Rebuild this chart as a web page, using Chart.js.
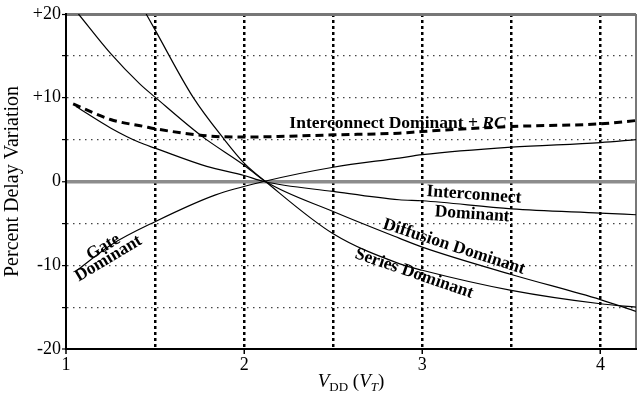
<!DOCTYPE html>
<html>
<head>
<meta charset="utf-8">
<script src="https://cdn.jsdelivr.net/npm/chart.js@4.4.0/dist/chart.umd.min.js"></script>
<style>
  body { margin: 0; background: #fff; }
</style>
</head>
<body>
<canvas id="delay" width="638" height="395"></canvas>
<script>
// V_DD (in V_T) and percent delay variation
const gateX = [1.056, 1.25, 1.5, 1.84, 2.11, 2.5, 2.87, 3.0, 3.5, 4.0, 4.2];
const gateY = [-10.7, -7.6, -4.8, -1.6, 0, 1.7, 2.8, 3.2, 4.1, 4.65, 5.0];

const interX = [1.056, 1.25, 1.414, 1.5, 1.79, 2.0, 2.11, 2.5, 2.87, 3.0, 3.5, 4.0, 4.2];
const interY = [8.95, 6.4, 4.65, 3.98, 1.8, 0.72, 0, -1.19, -2.18, -2.3, -3.26, -3.77, -3.97];

const diffX = [1.07, 1.25, 1.414, 1.5, 1.76, 2.0, 2.12, 2.5, 2.87, 3.0, 3.5, 4.0, 4.2];
const diffY = [20, 15.3, 11.66, 10.07, 5.45, 1.95, 0, -3.58, -6.76, -7.83, -11.1, -14.1, -15.5];

const seriesX = [1.45, 1.5, 1.713, 1.89, 2.0, 2.12, 2.5, 2.87, 3.0, 3.5, 4.0, 4.2];
const seriesY = [20, 18.1, 10.07, 4.98, 2.2, 0, -6.24, -9.8, -10.6, -13.0, -14.6, -15.0];

const rcX = [1.04, 1.25, 1.44, 1.5, 1.79, 2.0, 2.19, 2.5, 2.87, 3.0, 3.5, 4.0, 4.2];
const rcY = [9.27, 7.4, 6.56, 6.3, 5.45, 5.3, 5.37, 5.57, 5.77, 5.97, 6.56, 6.89, 7.28];

const xTicks = [1, 1.5, 2, 2.5, 3, 3.5, 4, 4.2];
const xLabels = [1, 2, 3, 4];
const yLabels = [-20, -10, 0, 10, 20];

// curve labels drawn on the plot (data coords, rotation in degrees)
const notes = [
  { lines: ["Gate", "Dominant"], x: 1.21, y: -7.85, rot: -31, step: [-1.6, 12.4] },
  { lines: ["Interconnect"], x: 3.29, y: -1.59, rot: 4 },
  { lines: ["Dominant"], x: 3.28, y: -3.91, rot: 4 },
  { lines: ["Diffusion Dominant"], x: 3.178, y: -7.8, rot: 18 },
  { lines: ["Series Dominant"], x: 2.954, y: -11.0, rot: 19 },
];

const serif = '"Liberation Serif", "Times New Roman", serif';

const toPoints = (xs, ys) => xs.map((x, i) => ({ x: x, y: ys[i] }));

const curve = (label, xs, ys, extra) =>
  Object.assign(
    {
      label: label,
      data: toPoints(xs, ys),
      borderColor: "#000",
      borderWidth: 1.2,
      pointRadius: 0,
      cubicInterpolationMode: "monotone",
      fill: false,
    },
    extra || {}
  );

const labelsPlugin = {
  id: "labels",
  afterDatasetsDraw(chart) {
    const ctx = chart.ctx;
    const xs = chart.scales.x;
    const ys = chart.scales.y;
    ctx.save();
    ctx.fillStyle = "#000";
    ctx.font = `bold 17.5px ${serif}`;
    ctx.textAlign = "center";
    ctx.textBaseline = "middle";
    notes.forEach((n) => {
      ctx.save();
      ctx.translate(xs.getPixelForValue(n.x), ys.getPixelForValue(n.y));
      ctx.rotate((n.rot * Math.PI) / 180);
      n.lines.forEach((t, i) => {
        const s = n.step || [0, 0];
        ctx.fillText(t, s[0] * i, s[1] * i);
      });
      ctx.restore();
    });

    // Interconnect Dominant + RC
    const lx = xs.getPixelForValue(2.254);
    const ly = ys.getPixelForValue(6.41);
    ctx.textAlign = "left";
    ctx.textBaseline = "alphabetic";
    const first = "Interconnect Dominant + ";
    ctx.fillText(first, lx, ly);
    const w = ctx.measureText(first).width;
    ctx.font = `italic bold 17.5px ${serif}`;
    ctx.fillText("RC", lx + w, ly);

    // x axis title: V_DD (V_T)
    const parts = [
      { t: "V", f: `italic 19px ${serif}`, dy: 0 },
      { t: "DD", f: `13px ${serif}`, dy: 4 },
      { t: " (", f: `19px ${serif}`, dy: 0 },
      { t: "V", f: `italic 19px ${serif}`, dy: 0 },
      { t: "T", f: `italic 13px ${serif}`, dy: 4 },
      { t: ")", f: `19px ${serif}`, dy: 0 },
    ];
    let total = 0;
    parts.forEach((p) => {
      ctx.font = p.f;
      p.w = ctx.measureText(p.t).width;
      total += p.w;
    });
    let cx = (chart.chartArea.left + chart.chartArea.right) / 2 - total / 2;
    const base = 387;
    parts.forEach((p) => {
      ctx.font = p.f;
      ctx.fillText(p.t, cx, base + p.dy);
      cx += p.w;
    });
    ctx.restore();
  },
};

new Chart(document.querySelector("#delay"), {
  type: "line",
  data: {
    datasets: [
      curve("Gate Dominant", gateX, gateY),
      curve("Interconnect Dominant", interX, interY),
      curve("Diffusion Dominant", diffX, diffY),
      curve("Series Dominant", seriesX, seriesY),
      curve("Interconnect Dominant + RC", rcX, rcY, {
        borderWidth: 3,
        borderDash: [8, 5],
      }),
    ],
  },
  options: {
    responsive: false,
    animation: false,
    layout: { padding: { top: 14, right: 2, left: 0, bottom: 0 } },
    plugins: {
      legend: { display: false },
      tooltip: { enabled: false },
    },
    scales: {
      x: {
        type: "linear",
        min: 1,
        max: 4.2,
        afterBuildTicks: (s) => {
          s.ticks = xTicks.map((v) => ({ value: v }));
        },
        afterFit: (s) => {
          s.height = 46;
        },
        ticks: {
          autoSkip: false,
          maxRotation: 0,
          padding: 0,
          color: "#000",
          font: { family: serif, size: 18 },
          callback: (v) => (xLabels.includes(v) ? String(v) : ""),
        },
        grid: {
          tickLength: 5,
          color: (c) => {
            const v = c.tick && c.tick.value;
            if (v === 4.2) return "#777";
            return "#000";
          },
          lineWidth: (c) => {
            const v = c.tick && c.tick.value;
            if (v === 1) return 2;
            if (v === 4.2) return 2;
            return 2.5;
          },
          tickColor: (c) =>
            c.tick && xLabels.includes(c.tick.value) ? "#000" : "rgba(0,0,0,0)",
          tickWidth: 1.5,
        },
        border: {
          color: "#000",
          width: 2,
          dash: (c) => {
            const v = c.tick && c.tick.value;
            if (v === undefined || v === 1 || v === 4.2) return [];
            return [3, 3];
          },
        },
      },
      y: {
        min: -20,
        max: 20,
        afterFit: (s) => {
          s.width = 66;
        },
        ticks: {
          stepSize: 5,
          padding: 1,
          color: "#000",
          font: { family: serif, size: 18 },
          callback: (v) =>
            yLabels.includes(v) ? (v > 0 ? "+" + v : String(v)) : "",
        },
        title: {
          display: true,
          text: "Percent Delay Variation",
          color: "#000",
          font: { family: serif, size: 20 },
          padding: { top: 1, bottom: 0 },
        },
        grid: {
          tickLength: 4,
          color: (c) => {
            const v = c.tick && c.tick.value;
            if (v === 0) return "#8c8c8c";
            if (v === 20) return "#777";
            return "#444";
          },
          lineWidth: (c) => {
            const v = c.tick && c.tick.value;
            if (v === 0) return 3.5;
            if (v === 20) return 3;
            if (v === -20) return 2;
            return 1.2;
          },
          tickColor: "#000",
          tickWidth: 1.2,
        },
        border: {
          color: "#000",
          width: 2,
          dash: (c) => {
            const v = c.tick && c.tick.value;
            if (v === undefined || v === 0 || v === 20 || v === -20) return [];
            return [1.5, 4.5];
          },
        },
      },
    },
  },
  plugins: [labelsPlugin],
});
</script>
</body>
</html>
